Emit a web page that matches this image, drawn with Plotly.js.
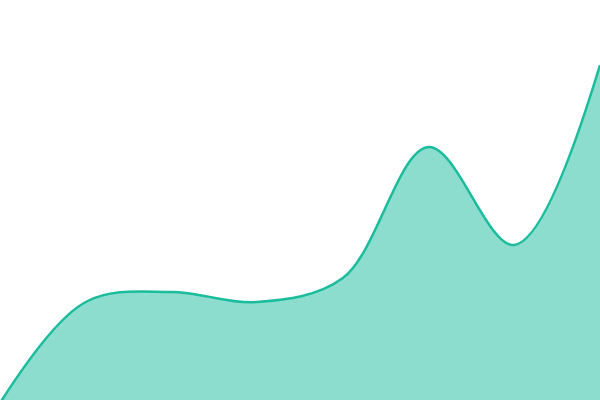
<!DOCTYPE html>
<html>
<head>
<meta charset="utf-8">
<script src="https://cdn.plot.ly/plotly-3.0.1.min.js"></script>
<style>
  html, body { margin: 0; padding: 0; background: #fff; }
  #chart { width: 600px; height: 400px; }
</style>
</head>
<body>
<div id="chart"></div>
<script>
// evenly spaced points
var steps = [0, 1, 2, 3, 4, 5, 6, 7];
var values = [-3, 98, 108, 98, 122, 253, 155, 335];

var trace = {
    x: steps,
    y: values,
    type: 'scatter',
    mode: 'lines',
    fill: 'tozeroy',
    fillcolor: 'rgba(26,188,156,0.5)',
    line: { color: '#1abc9c', width: 2.5, shape: 'spline', smoothing: 1 },
    hoverinfo: 'none'
};

var layout = {
    width: 600,
    height: 400,
    margin: { l: 0, r: 0, t: 0, b: 0 },
    paper_bgcolor: '#fff',
    plot_bgcolor: '#fff',
    showlegend: false,
    xaxis: { range: [0, 7], visible: false, fixedrange: true },
    yaxis: { range: [0, 400], visible: false, fixedrange: true }
};

Plotly.newPlot('chart', [trace], layout, { displayModeBar: false, staticPlot: true });
</script>
</body>
</html>
